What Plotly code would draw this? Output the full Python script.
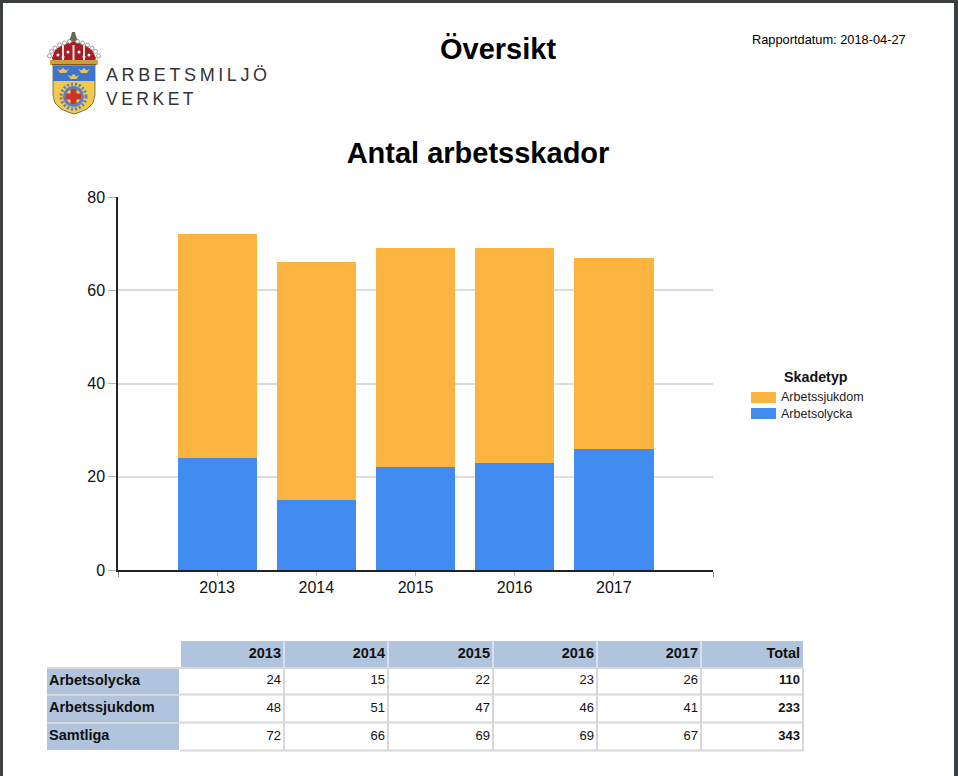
import plotly.graph_objects as go

W, H = 958, 776
years = ["2013", "2014", "2015", "2016", "2017"]
olycka = [24, 15, 22, 23, 26]
sjukdom = [48, 51, 47, 46, 41]
samtliga = [72, 66, 69, 69, 67]
totals = [110, 233, 343]
row_labels = ["Arbetsolycka", "Arbetssjukdom", "Samtliga"]
FONT = "Liberation Sans"
BLUE, ORANGE, HEAD = "#418cf0", "#fcb441", "#b0c4de"
TXT = "#111111"
col_edges = [47, 180, 284, 388, 493, 597, 701, 803]
row_edges = [641, 668, 695, 723, 751]


def X(p):
    return p / W


def Y(p):
    return 1 - p / H


def path(points, close=True):
    d = "M " + " L ".join(f"{X(a):.5f},{Y(b):.5f}" for a, b in points)
    return d + (" Z" if close else "")


fig = go.Figure()
fig.add_bar(name="Arbetsolycka", x=years, y=olycka, marker=dict(color=BLUE, line_width=0), showlegend=False)
fig.add_bar(name="Arbetssjukdom", x=years, y=sjukdom, marker=dict(color=ORANGE, line_width=0), showlegend=False)

shapes = []


def add(kind_path, fill, line="rgba(0,0,0,0)", w=0):
    shapes.append(dict(type="path", xref="paper", yref="paper", path=kind_path,
                       fillcolor=fill, line=dict(color=line, width=w), layer="above"))


def box(x0, y0, x1, y1, fill, layer="above"):
    shapes.append(dict(type="rect", xref="paper", yref="paper", x0=X(x0), x1=X(x1), y0=Y(y0), y1=Y(y1),
                       fillcolor=fill, line_width=0, layer=layer))


def disc(cx, cy, r, fill, line="rgba(0,0,0,0)", w=0):
    shapes.append(dict(type="circle", xref="paper", yref="paper", x0=X(cx - r), x1=X(cx + r), y0=Y(cy + r),
                       y1=Y(cy - r), fillcolor=fill, line=dict(color=line, width=w), layer="above"))


# table: cell backgrounds and grid (kept below the text traces)
for r in range(4):
    for c in range(7):
        if r == 0 and c == 0:
            continue
        fill = HEAD if (r == 0 or c == 0) else "#ffffff"
        box(col_edges[c] + (1 if c else 0), row_edges[r] + (1 if r else 0), col_edges[c + 1] - (1 if c < 6 else 0),
            row_edges[r + 1] - 1, fill, "below")
for c in range(2, 8):
    box(col_edges[c] - 1, 668, col_edges[c] + 1, 751, "#d8d8d8", "below")
for r in range(2, 5):
    box(180, row_edges[r] - 1.5, 803, row_edges[r] + 0.5, "#d8d8d8", "below")
box(180, 667, 803, 669, "#d8d8d8", "below")
for c in range(2, 7):
    box(col_edges[c] - 1, 641, col_edges[c] + 1, 668, "#d8e0ec", "below")
for r in range(1, 4):
    box(47, row_edges[r] - 1, 180, row_edges[r] + 1, "#d8d8d8", "below")

# table text, on an overlaid pixel scale
table_rows = [olycka, sjukdom, samtliga]
row_mid = [(row_edges[i] + row_edges[i + 1]) / 2 - 0.5 for i in range(4)]
head_text = [f"<b>{y}</b>" for y in years] + ["<b>Total</b>"]
fig.add_scatter(x=[col_edges[i + 2] - 3 for i in range(6)], y=[row_mid[0]] * 6, text=head_text, mode="text",
                textposition="middle left", textfont=dict(family=FONT, size=14.5, color=TXT), xaxis="x2", yaxis="y2",
                showlegend=False, hoverinfo="skip", cliponaxis=False)
for ri, vals in enumerate(table_rows):
    fig.add_scatter(x=[col_edges[i + 2] - 3 for i in range(5)], y=[row_mid[ri + 1]] * 5, text=[str(v) for v in vals],
                    mode="text", textposition="middle left", textfont=dict(family=FONT, size=13, color=TXT),
                    xaxis="x2", yaxis="y2", showlegend=False, hoverinfo="skip", cliponaxis=False)
fig.add_scatter(x=[col_edges[7] - 3] * 3, y=row_mid[1:], text=[f"<b>{t}</b>" for t in totals], mode="text",
                textposition="middle left", textfont=dict(family=FONT, size=13, color=TXT), xaxis="x2", yaxis="y2",
                showlegend=False, hoverinfo="skip", cliponaxis=False)
fig.add_scatter(x=[49] * 3, y=row_mid[1:], text=[f"<b>{t}</b>" for t in row_labels], mode="text",
                textposition="middle right", textfont=dict(family=FONT, size=14.5, color=TXT), xaxis="x2", yaxis="y2",
                showlegend=False, hoverinfo="skip", cliponaxis=False)

# window frame
box(0, 0, 958, 3, "#3c3f41")
box(0, 0, 3, 776, "#3c3f41")
box(954, 0, 958, 776, "#3c3f41")

# legend swatches
box(751, 392, 776, 403, ORANGE)
box(751, 408, 776, 419, BLUE)

# logo: shield
add(path([(53, 66), (95, 66), (95, 95), (93, 103), (87, 109), (80, 112), (74, 114), (68, 112), (61, 109), (55, 103), (53, 95)]),
    "#f2c94a", "#5a5a40", 0.8)
box(53, 66, 95, 81, "#3f74c8")
for cx, cy in [(63, 70.5), (84, 70.5), (73.5, 76.5)]:
    add(path([(cx - 6, cy - 2), (cx - 3, cy), (cx, cy - 2.5), (cx + 3, cy), (cx + 6, cy - 2), (cx + 3, cy + 2.5), (cx - 3, cy + 2.5)]), "#e3c65a")
# gear
shapes.append(dict(type="circle", xref="paper", yref="paper", x0=X(61), x1=X(86), y0=Y(109), y1=Y(84),
                   fillcolor="rgba(0,0,0,0)", line=dict(color="#5b7fc4", width=3, dash="2px,2px"), layer="above"))
disc(73.5, 96.5, 10.5, "#5b7fc4")
disc(73.5, 96.5, 7.5, "#f2c94a")
box(66, 93.5, 81, 99.5, "#c8362c")
box(70.5, 89, 76.5, 104, "#c8362c")
# logo: crown
add(path([(52, 58), (55, 50), (62, 45), (73.5, 41), (85, 45), (92, 50), (96, 58), (94, 63), (54, 63)]), "#a81c2a")
for cx in [63, 73.5, 84]:
    box(cx - 1, 45, cx + 1, 60, "#efe6d0")
box(50, 60, 98, 65, "#c9a03c")
box(52, 64, 96, 65.5, "#7a5a2a")
add(path([(72, 32), (75, 32), (76, 36), (78, 41), (69, 41), (71, 36)]), "#6a6a50")
for cx, cy in [(49.5, 56), (51.5, 51.5), (55, 48), (59.5, 45), (64.5, 43), (69.5, 41.5), (77.5, 41.5), (82.5, 43), (87.5, 45), (92, 48), (95.5, 51.5), (98.5, 56)]:
    disc(cx, cy, 2, "#ffffff", "#666666", 0.6)
for cx, cy in [(58, 55), (68, 52), (79, 52), (89, 55), (63, 57), (84, 57)]:
    disc(cx, cy, 1.5, "#ffffff")

annotations = [
    dict(text="<b>Översikt</b>", x=X(498), y=Y(49), font=dict(size=29, color="#000000")),
    dict(text="Rapportdatum: 2018-04-27", x=X(829), y=Y(39), font=dict(size=12.8, color="#000000")),
    dict(text="A\u2009R\u2009B\u2009E\u2009T\u2009S\u2009M\u2009I\u2009L\u2009J\u2009Ö", x=X(104), y=Y(75), xanchor="left",
         font=dict(size=18, color="#333333")),
    dict(text="V\u2009E\u2009R\u2009K\u2009E\u2009T", x=X(104), y=Y(99), xanchor="left",
         font=dict(size=17.5, color="#333333")),
    dict(text="<b>Skadetyp</b>", x=X(816), y=Y(377), font=dict(size=14.3, color="#111111")),
    dict(text="Arbetssjukdom", x=X(779), y=Y(397.5), xanchor="left", font=dict(size=12.5, color="#222222")),
    dict(text="Arbetsolycka", x=X(779), y=Y(414), xanchor="left", font=dict(size=12.5, color="#222222")),
]
for a in annotations:
    a.update(xref="paper", yref="paper", showarrow=False)
    a.setdefault("xanchor", "center")
    a["yanchor"] = "middle"
    a["font"]["family"] = FONT

fig.update_layout(
    width=W, height=H, autosize=False,
    margin=dict(l=0, r=0, t=0, b=0, autoexpand=False),
    paper_bgcolor="#ffffff", plot_bgcolor="rgba(0,0,0,0)",
    barmode="stack", bargap=0.2,
    font=dict(family=FONT, color="#000000"),
    title=dict(text="<b>Antal arbetsskador</b>", x=X(478), y=Y(153), xanchor="center", yanchor="middle",
               xref="paper", yref="paper", font=dict(size=29, family=FONT, color="#000000")),
    xaxis=dict(domain=[X(118), X(713)], type="category", range=[-1, 5], showgrid=False,
               showline=True, linecolor="#222222", linewidth=1.5, ticks="outside", ticklen=4, tickcolor="#b5b5b5",
               tickfont=dict(size=16, color=TXT), anchor="y", ticklabelstandoff=-2,
               minor=dict(ticks="outside", ticklen=5, tickcolor="#8a8a8a", tickmode="array", tickvals=[-1, 5],
                          showgrid=False)),
    yaxis=dict(domain=[Y(570), Y(197)], range=[0, 80], tickvals=[0, 20, 40, 60, 80], gridcolor="#dcdcdc",
               gridwidth=1.5, zeroline=False, showline=True, linecolor="#222222", linewidth=1.5,
               ticks="outside", ticklen=8, tickcolor="#b5b5b5", tickfont=dict(size=16, color=TXT), anchor="x"),
    xaxis2=dict(domain=[X(47), X(803)], range=[47, 803], visible=False, anchor="y2", fixedrange=True),
    yaxis2=dict(domain=[Y(751), Y(641)], range=[751, 641], visible=False, anchor="x2", fixedrange=True),
    shapes=shapes,
    annotations=annotations,
    showlegend=False,
)
fig.write_html("out.html", post_script="document.body.style.margin='0';", config=dict(displayModeBar=False))
